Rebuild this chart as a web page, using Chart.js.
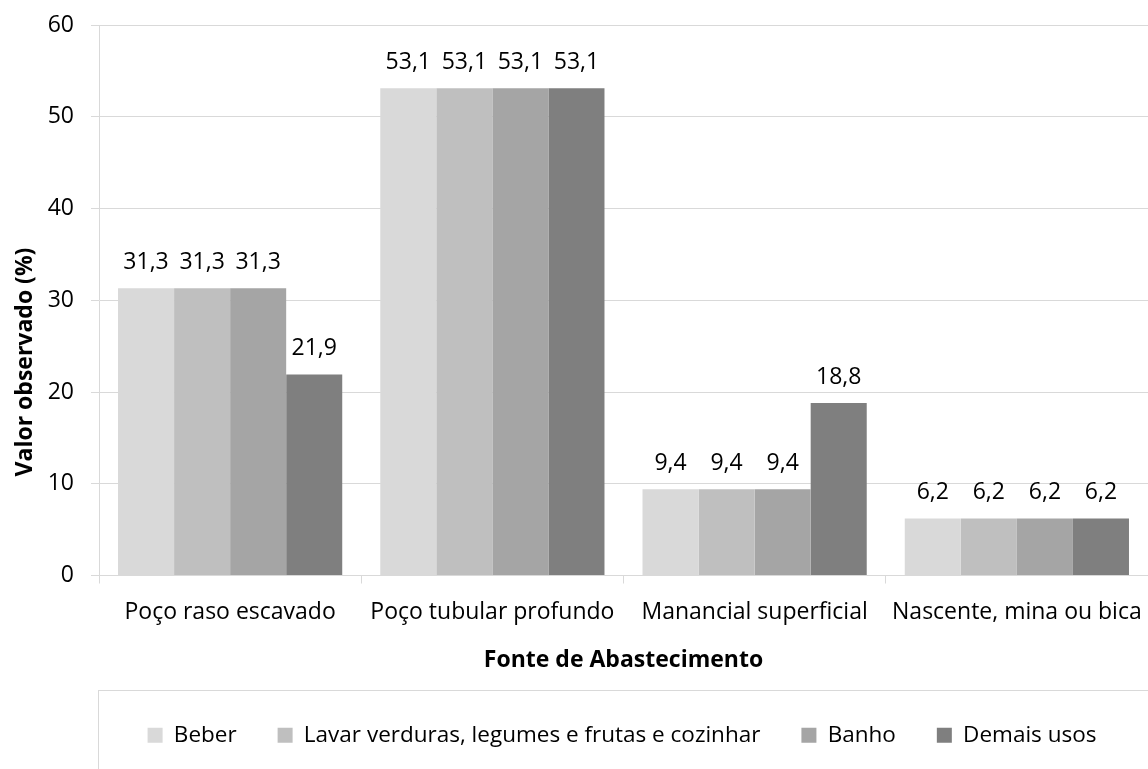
<!DOCTYPE html>
<html>
<head>
<meta charset="utf-8">
<script src="https://cdn.jsdelivr.net/npm/chart.js@4"></script>
<style>
  html, body { margin: 0; padding: 0; background: #fff; }
  #wrap { width: 1148px; height: 769px; }
</style>
</head>
<body>
<div id="wrap"><canvas id="chart" width="1148" height="769"></canvas></div>
<script>
const categories = ['Poço raso escavado', 'Poço tubular profundo', 'Manancial superficial', 'Nascente, mina ou bica'];
const seriesNames = ['Beber', 'Lavar verduras, legumes e frutas e cozinhar', 'Banho', 'Demais usos'];
const beber = [31.3, 53.1, 9.4, 6.2];
const lavar = [31.3, 53.1, 9.4, 6.2];
const banho = [31.3, 53.1, 9.4, 6.2];
const demais = [21.9, 53.1, 18.8, 6.2];
const colors = ['#d9d9d9', '#bfbfbf', '#a5a5a5', '#7f7f7f'];
const yTicks = [0, 10, 20, 30, 40, 50, 60];
const yTitle = 'Valor observado (%)';
const xTitle = 'Fonte de Abastecimento';

const FONT = '"Open Sans", sans-serif';
const gridColor = '#d9d9d9';

// valores sobre as barras, com vírgula decimal
const valueLabels = {
  id: 'valueLabels',
  afterDatasetsDraw(chart) {
    const ctx = chart.ctx;
    ctx.save();
    ctx.font = '23px ' + FONT;
    ctx.fillStyle = '#000';
    ctx.textAlign = 'center';
    ctx.textBaseline = 'middle';
    chart.data.datasets.forEach((ds, i) => {
      chart.getDatasetMeta(i).data.forEach((bar, j) => {
        ctx.fillText(ds.data[j].toFixed(1).replace('.', ','), bar.x, bar.y - 26);
      });
    });
    ctx.restore();
  }
};

// título do eixo y (fora do centro do eixo, como no original) e caixa da legenda
const extras = {
  id: 'extras',
  afterLayout(chart) {
    // desloca a legenda para ficar centrada na área do gráfico
    chart.legend.left += 48;
    chart.legend.right += 48;
  },
  afterDraw(chart) {
    const ctx = chart.ctx;
    ctx.save();
    ctx.strokeStyle = gridColor;
    ctx.lineWidth = 1;
    ctx.strokeRect(98.5, 690.5, 1100, 120);
    ctx.translate(32, 362);
    ctx.rotate(-Math.PI / 2);
    ctx.font = 'bold 23px ' + FONT;
    ctx.fillStyle = '#000';
    ctx.textAlign = 'center';
    ctx.textBaseline = 'alphabetic';
    ctx.fillText(yTitle, 0, 0);
    ctx.restore();
  }
};

const datasets = [beber, lavar, banho, demais].map((d, i) => ({
  label: seriesNames[i],
  data: d,
  backgroundColor: colors[i],
  borderWidth: 0,
  barPercentage: 1,
  categoryPercentage: 0.855
}));

new Chart(document.getElementById('chart'), {
  type: 'bar',
  data: { labels: categories, datasets: datasets },
  plugins: [valueLabels, extras],
  options: {
    responsive: false,
    animation: false,
    layout: { padding: { top: 25, right: 0, left: 0, bottom: 12.5 } },
    plugins: {
      tooltip: { enabled: false },
      legend: {
        position: 'bottom',
        labels: {
          font: { family: FONT, size: 22.5 },
          color: '#000',
          boxWidth: 15,
          boxHeight: 15,
          padding: 41
        }
      }
    },
    scales: {
      x: {
        grid: { display: true, drawOnChartArea: false, color: gridColor, tickLength: 8, offset: true },
        border: { display: true, color: gridColor },
        ticks: { font: { family: FONT, size: 23 }, color: '#000', padding: 15 },
        title: {
          display: true,
          text: xTitle,
          font: { family: FONT, size: 23, weight: 'bold' },
          color: '#000',
          padding: { top: 0, bottom: 8.5 }
        },
        afterFit(scale) {
          scale.height = 107.5;
          scale.paddingLeft = 0;
          scale.paddingRight = 0;
        }
      },
      y: {
        min: 0,
        max: 60,
        afterBuildTicks(scale) { scale.ticks = yTicks.map(v => ({ value: v })); },
        grid: { color: gridColor, tickLength: 8 },
        border: { display: true, color: gridColor },
        ticks: { font: { family: FONT, size: 23 }, color: '#000', padding: 17 },
        afterFit(scale) {
          scale.width = 99;
          scale.paddingTop = 0;
          scale.paddingBottom = 0;
        }
      }
    }
  }
});
</script>
</body>
</html>
